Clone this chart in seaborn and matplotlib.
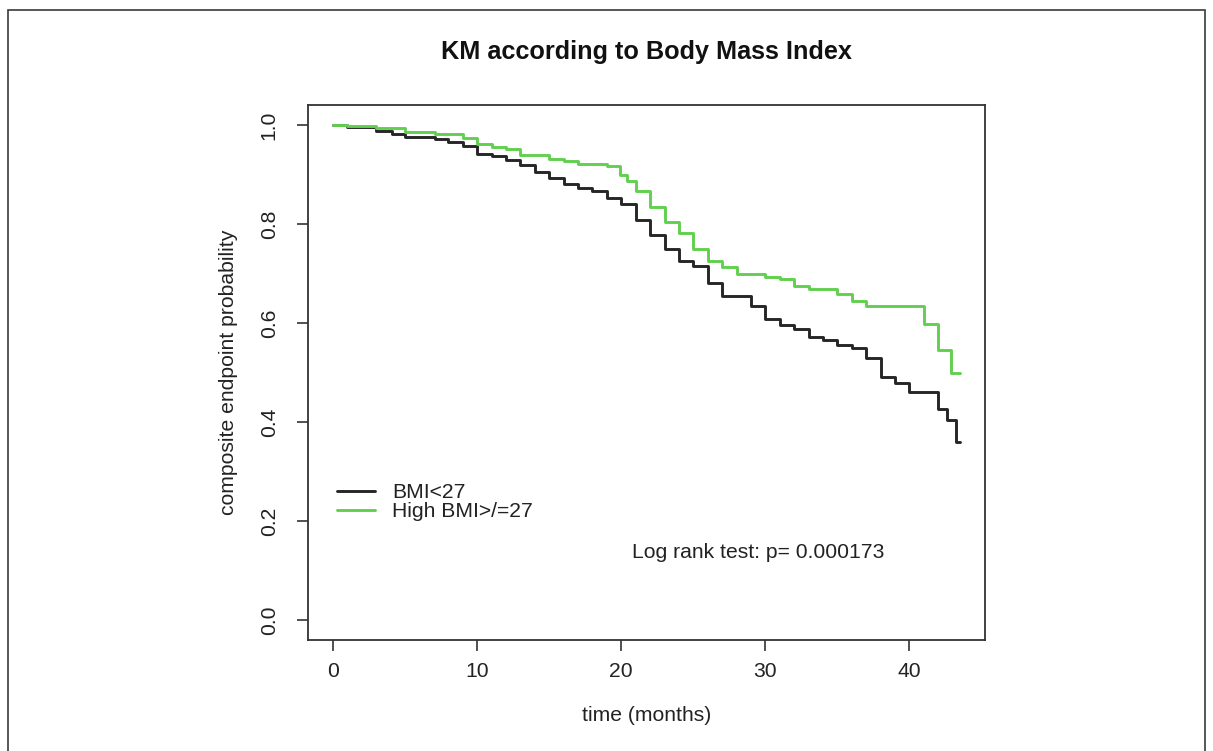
import numpy as np
import pandas as pd
import matplotlib
matplotlib.use("Agg")
import matplotlib.pyplot as plt
import seaborn as sns
from matplotlib.lines import Line2D
from matplotlib.patches import Rectangle

# ---------------- data ----------------
groups = ["BMI<27", "High BMI>/=27"]

time_low = [0, 1.0, 3.0, 4.1, 5.0, 7.1, 8.0, 9.0, 10.0, 11.0, 12.0, 13.0, 14.0,
            15.0, 16.0, 17.0, 18.0, 19.0, 20.0, 21.0, 22.0, 23.0, 24.0, 25.0,
            26.0, 27.0, 29.0, 30.0, 31.0, 32.0, 33.0, 34.0, 35.0, 36.0, 37.0,
            38.0, 39.0, 40.0, 42.0, 42.6, 43.2, 43.5]
surv_low = [1.0, 0.995, 0.988, 0.982, 0.975, 0.972, 0.965, 0.958, 0.942, 0.938,
            0.928, 0.918, 0.905, 0.893, 0.880, 0.872, 0.866, 0.852, 0.840, 0.808,
            0.778, 0.750, 0.726, 0.714, 0.681, 0.655, 0.634, 0.607, 0.595, 0.587,
            0.571, 0.565, 0.556, 0.549, 0.530, 0.490, 0.478, 0.460, 0.427, 0.405,
            0.360, 0.360]

time_high = [0, 1.0, 3.0, 5.0, 7.1, 9.0, 10.0, 11.0, 12.0, 13.0, 15.0, 16.0,
             17.0, 19.0, 19.9, 20.4, 21.0, 22.0, 23.0, 24.0, 25.0, 26.0, 27.0,
             28.0, 30.0, 31.0, 32.0, 33.0, 35.0, 36.0, 37.0, 41.0, 42.0, 42.9,
             43.5]
surv_high = [1.0, 0.997, 0.993, 0.985, 0.981, 0.973, 0.962, 0.956, 0.951, 0.940,
             0.931, 0.926, 0.921, 0.916, 0.899, 0.887, 0.866, 0.835, 0.804, 0.782,
             0.750, 0.726, 0.712, 0.698, 0.692, 0.688, 0.674, 0.669, 0.659, 0.644,
             0.635, 0.597, 0.545, 0.500, 0.500]

x_ticks = [0, 10, 20, 30, 40]
y_ticks = [0.0, 0.2, 0.4, 0.6, 0.8, 1.0]
y_tick_labels = ["0.0", "0.2", "0.4", "0.6", "0.8", "1.0"]

title_text = "KM according to Body Mass Index"
x_label = "time (months)"
y_label = "composite endpoint probability"
logrank_text = "Log rank test: p= 0.000173"

colors = {groups[0]: "#262626", groups[1]: "#61D04F"}

df = pd.concat([
    pd.DataFrame({"time": time_low, "surv": surv_low, "group": groups[0]}),
    pd.DataFrame({"time": time_high, "surv": surv_high, "group": groups[1]}),
], ignore_index=True)

# ---------------- styling ----------------
sns.set_style("white")
plt.rcParams["font.family"] = ["Liberation Sans", "DejaVu Sans"]

FS = 15.2
W, H = 1213, 751
fig = plt.figure(figsize=(W / 100, H / 100), dpi=100)

# outer frame of the figure panel
fig.patches.append(Rectangle((8 / W, -0.05), (1205 - 8) / W, 1.05 - 10 / H,
                             transform=fig.transFigure, fill=False,
                             edgecolor="#3a3a3a", linewidth=1.2))

left, right, top, bottom = 308, 985, 105, 640
ax = fig.add_axes([left / W, 1 - bottom / H, (right - left) / W, (bottom - top) / H])

sns.lineplot(data=df, x="time", y="surv", hue="group", hue_order=groups,
             palette=colors, estimator=None, sort=False,
             drawstyle="steps-post", linewidth=2.1, legend=False, ax=ax)

tmax = max(time_low[-1], time_high[-1])
ax.set_xlim(-0.04 * tmax, 1.04 * tmax)
ax.set_ylim(-0.04, 1.04)

ax.set_xticks(x_ticks)
ax.set_xticklabels([str(t) for t in x_ticks])
ax.set_yticks(y_ticks)
ax.set_yticklabels(y_tick_labels, rotation=90, va="center")

for sp in ax.spines.values():
    sp.set_visible(True)
    sp.set_color("#333333")
    sp.set_linewidth(1.3)

ax.tick_params(axis="both", which="major", bottom=True, left=True,
               top=False, right=False, direction="out", length=8, width=1.2,
               color="#333333", labelsize=FS, labelcolor="#222222")
ax.tick_params(axis="x", pad=8)
ax.tick_params(axis="y", pad=13)

ax.set_xlabel(x_label, fontsize=FS, color="#222222", labelpad=18)
ax.set_ylabel(y_label, fontsize=FS, color="#222222", labelpad=16)

ax.set_title(title_text, fontsize=18.2, fontweight="bold", color="#111111", pad=33)

handles = [Line2D([0], [0], color=colors[g], lw=2.1) for g in groups]
ax.legend(handles, groups, loc="upper left",
          bbox_to_anchor=(337 / W, 1 - 483 / H), bbox_transform=fig.transFigure,
          frameon=False, fontsize=FS, handlelength=1.8, handletextpad=0.8,
          labelspacing=0.02, borderpad=0, borderaxespad=0, labelcolor="#222222")

fig.text(632 / W, 1 - 553 / H, logrank_text, ha="left", va="center",
         fontsize=FS, color="#222222")

fig.savefig("out.png", dpi=100, facecolor="white")
